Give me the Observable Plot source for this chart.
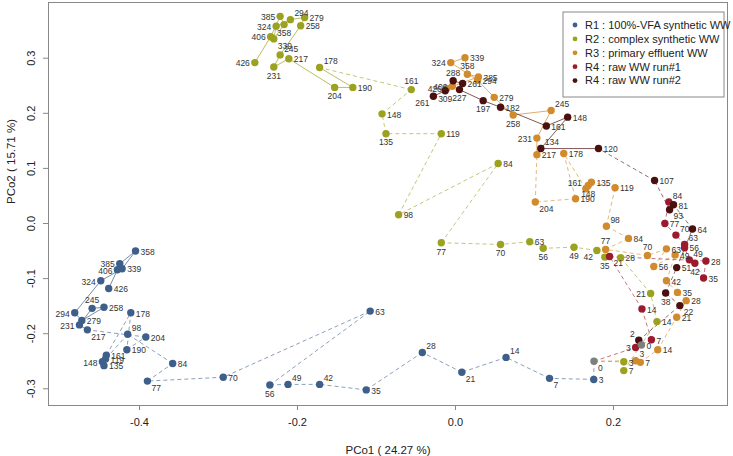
<!DOCTYPE html>
<html><head><meta charset="utf-8">
<script src="https://cdn.jsdelivr.net/npm/d3@7"></script>
<script src="https://cdn.jsdelivr.net/npm/@observablehq/plot@0.6"></script>
<style>body{margin:0;background:#fff;} svg{display:block;}</style>
</head><body><div id="chart"></div>
<script>
const seriesNames = ["R1 : 100%-VFA synthetic WW","R2 : complex synthetic WW","R3 : primary effluent WW","R4 : raw WW run#1","R4 : raw WW run#2"];
const pointColors = ["#3f5f8b","#9ba21f","#d18b2c","#9c1a2d","#4a1010"];
const inoculumColor = "#7f7f7f";
const xTicks = [-0.4,-0.2,0.0,0.2];
const yTicks = [-0.3,-0.2,-0.1,0.0,0.1,0.2,0.3];
const xTitle = "PCo1 ( 24.27 %)";
const yTitle = "PCo2 ( 15.71 %)";

const inoculumPCo1 = [0.1753, 0.2354];
const inoculumPCo2 = [-0.2499, -0.2205];

const r1Days = [3,7,14,21,28,35,42,49,56,63,70,77,84,98,119,135,148,161,178,190,204,217,231,245,258,279,294,324,339,358,385,406,426];
const r1PCo1 = [0.175,0.119,0.064,0.008,-0.042,-0.113,-0.172,-0.212,-0.235,-0.108,-0.294,-0.390,-0.358,-0.415,-0.443,-0.445,-0.447,-0.442,-0.411,-0.416,-0.392,-0.466,-0.476,-0.460,-0.445,-0.473,-0.482,-0.449,-0.422,-0.405,-0.425,-0.428,-0.439];
const r1PCo2 = [-0.283,-0.281,-0.243,-0.270,-0.234,-0.302,-0.292,-0.292,-0.293,-0.159,-0.279,-0.286,-0.254,-0.201,-0.246,-0.258,-0.251,-0.239,-0.162,-0.229,-0.206,-0.193,-0.184,-0.154,-0.152,-0.176,-0.162,-0.104,-0.082,-0.050,-0.073,-0.084,-0.118];

const r2Days = [3,7,14,21,28,35,42,49,56,63,70,77,84,98,119,135,148,161,178,190,204,217,231,245,258,279,294,324,339,358,385,406,426];
const r2PCo1 = [0.213,0.213,0.255,0.247,0.209,0.189,0.179,0.150,0.111,0.094,0.057,-0.018,0.054,-0.072,-0.018,-0.088,-0.093,-0.056,-0.172,-0.130,-0.153,-0.211,-0.230,-0.222,-0.196,-0.191,-0.209,-0.227,-0.230,-0.217,-0.222,-0.234,-0.254];
const r2PCo2 = [-0.251,-0.267,-0.178,-0.127,-0.062,-0.061,-0.049,-0.043,-0.045,-0.033,-0.038,-0.035,0.109,0.016,0.163,0.163,0.199,0.243,0.283,0.247,0.247,0.299,0.284,0.306,0.359,0.374,0.370,0.358,0.335,0.361,0.376,0.339,0.292];

const r3Days = [3,7,14,21,28,35,42,49,56,63,70,77,84,98,119,135,148,161,178,190,204,217,231,245,258,279,294,324,339,358,385,406,426];
const r3PCo1 = [0.228,0.234,0.256,0.280,0.292,0.281,0.267,0.278,0.251,0.267,0.243,0.190,0.219,0.191,0.202,0.172,0.168,0.165,0.137,0.152,0.101,0.103,0.103,0.121,0.073,0.049,0.028,-0.006,0.012,0.015,0.029,-0.004,-0.011];
const r3PCo2 = [-0.249,-0.252,-0.229,-0.170,-0.140,-0.125,-0.104,-0.057,-0.078,-0.046,-0.058,-0.047,-0.027,-0.005,0.065,0.075,0.069,0.063,0.127,0.045,0.039,0.125,0.155,0.205,0.197,0.229,0.260,0.292,0.301,0.271,0.266,0.249,0.245];

const r4aDays = [3,7,14,21,28,35,42,49,56,63,70,77,84];
const r4aPCo1 = [0.228,0.248,0.236,0.195,0.317,0.314,0.303,0.296,0.290,0.290,0.279,0.265,0.270];
const r4aPCo2 = [-0.225,-0.211,-0.155,-0.060,-0.068,-0.099,-0.072,-0.066,-0.044,-0.038,-0.021,0.000,0.039];

const r4bDays = [2,22,38,51,64,81,93,107,120,134,148,161,182,197,227,261,288,309,261];
const r4bPCo1 = [0.232,0.284,0.266,0.280,0.300,0.276,0.271,0.252,0.181,0.108,0.142,0.115,0.057,0.035,0.005,0.009,-0.003,-0.013,-0.028];
const r4bPCo2 = [-0.212,-0.149,-0.126,-0.080,-0.010,0.034,0.025,0.078,0.136,0.136,0.193,0.177,0.211,0.223,0.243,0.254,0.259,0.241,0.231];

// label placement (style): r default
const r1Side = {385:"l",406:"l",324:"l",245:"t",294:"l",231:"l",217:"br",98:"tr",148:"l",77:"br",56:"b",49:"tr",42:"tr",28:"tr",21:"br",14:"tr",7:"br"};
const r2Side = {385:"l",294:"tr",324:"l",358:"b",406:"l",339:"br",426:"l",245:"tr",231:"b",178:"tr",204:"b",161:"t",135:"b",77:"b",70:"b",56:"b",49:"b",42:"bl",35:"b",21:"l"};
const r3Side = {3:"tr",324:"l",358:"t",258:"b",245:"tr",231:"l",161:"tl",148:"b",204:"br",98:"tr",77:"t",70:"t",406:"l",426:"l"};
const r4aSide = {3:"l",21:"br",42:"b",49:"tr",63:"tr",70:"tr",84:"tr"};
const r4bSide = {2:"tl",22:"br",38:"b",93:"br",134:"tr",197:"b",227:"b",288:"t",309:"b","261b":"bl"};
const inoculumSide = ["br","r"];

const series = [
  {days:r1Days, pc1:r1PCo1, pc2:r1PCo2, start:0, solidFrom:231, side:r1Side},
  {days:r2Days, pc1:r2PCo1, pc2:r2PCo2, start:0, solidFrom:190, side:r2Side},
  {days:r3Days, pc1:r3PCo1, pc2:r3PCo2, start:0, solidFrom:231, side:r3Side},
  {days:r4aDays, pc1:r4aPCo1, pc2:r4aPCo2, start:0, solidFrom:Infinity, side:r4aSide},
  {days:r4bDays, pc1:r4bPCo1, pc2:r4bPCo2, start:1, solidFrom:134, side:r4bSide}
];

const pts = [], segs = [];
series.forEach((s, si) => {
  let prev = {x: inoculumPCo1[s.start], y: inoculumPCo2[s.start]};
  const seen = new Set();
  s.days.forEach((d, i) => {
    const key = seen.has(d) ? d + "b" : String(d);
    seen.add(d);
    const p = {si, label: String(d), x: s.pc1[i], y: s.pc2[i], side: s.side[key] || "r", color: pointColors[si]};
    segs.push({si, x1: prev.x, y1: prev.y, x2: p.x, y2: p.y, solid: d >= s.solidFrom && i > 0, color: pointColors[si]});
    pts.push(p);
    prev = p;
  });
});
const inoc = inoculumPCo1.map((x, i) => ({label: "0", x, y: inoculumPCo2[i], side: inoculumSide[i], color: inoculumColor}));
const labelPts = pts.concat(inoc);

const sideOpts = {
  r: {dx: 5, dy: 1, textAnchor: "start"},
  l: {dx: -5, dy: 1, textAnchor: "end"},
  t: {dx: 0, dy: -8, textAnchor: "middle"},
  b: {dx: 0, dy: 9, textAnchor: "middle"},
  tr: {dx: 4, dy: -6, textAnchor: "start"},
  br: {dx: 4, dy: 7, textAnchor: "start"},
  bl: {dx: -4, dy: 7, textAnchor: "end"},
  tl: {dx: -4, dy: -6, textAnchor: "end"}
};

const labelMarks = Object.entries(sideOpts).map(([k, o]) =>
  Plot.text(labelPts.filter(p => p.side === k), {x: "x", y: "y", text: "label", fontSize: 8.5, fill: "#333", lineAnchor: "middle", ...o})
);

const fmt = d => d.toFixed(1);
const chart = Plot.plot({
  width: 733, height: 456,
  marginLeft: 48, marginRight: 6, marginTop: 2, marginBottom: 51,
  style: {fontFamily: "'Liberation Sans', Arial, sans-serif", background: "#fff"},
  x: {domain: [-0.5152, 0.3443]},
  y: {domain: [-0.3303, 0.4011]},
  marks: [
    Plot.frame({stroke: "#888"}),
    Plot.axisX({ticks: xTicks, tickFormat: fmt, tickSize: 5, tickPadding: 8, fontSize: 11, label: null, stroke: "#888", fill: "#222"}),
    Plot.axisY({ticks: yTicks, tickFormat: () => "", tickSize: 5, label: null, stroke: "#888"}),
    Plot.text(yTicks, {x: null, y: d => d, frameAnchor: "left", text: fmt, rotate: -90, dx: -17, fontSize: 11, fill: "#222", textAnchor: "middle", lineAnchor: "middle"}),
    Plot.text([xTitle], {frameAnchor: "bottom", dy: 45, fontSize: 11.5, fill: "#222", lineAnchor: "middle"}),
    Plot.text([yTitle], {frameAnchor: "left", dx: -37, rotate: -90, fontSize: 11.5, fill: "#222", lineAnchor: "middle"}),
    Plot.link(segs.filter(s => !s.solid), {x1: "x1", y1: "y1", x2: "x2", y2: "y2", stroke: "color", strokeOpacity: 0.6, strokeWidth: 1, strokeDasharray: "4,3"}),
    Plot.link(segs.filter(s => s.solid), {x1: "x1", y1: "y1", x2: "x2", y2: "y2", stroke: "color", strokeOpacity: 0.7, strokeWidth: 1}),
    Plot.dot(pts, {x: "x", y: "y", r: 3.7, fill: "color", stroke: "none"}),
    Plot.dot(inoc, {x: "x", y: "y", r: 3.7, fill: "color", stroke: "none"}),
    ...labelMarks
  ]
});
document.getElementById("chart").appendChild(chart);

// legend inside plot area (top-right)
const svg = d3.select(chart);
const lg = svg.append("g").attr("font-family", "'Liberation Sans', Arial, sans-serif").attr("font-size", 11).attr("text-anchor", "start");
lg.append("rect").attr("x", 563).attr("y", 12).attr("width", 161).attr("height", 85).attr("fill", "#fff").attr("stroke", "#888");
seriesNames.forEach((n, i) => {
  const cy = 25 + i * 13.9;
  lg.append("circle").attr("cx", 575).attr("cy", cy).attr("r", 2.4).attr("fill", pointColors[i]);
  lg.append("text").attr("x", 585).attr("y", cy).attr("dy", "0.35em").attr("text-anchor", "start").attr("fill", "#222").text(n);
});
</script></body></html>
